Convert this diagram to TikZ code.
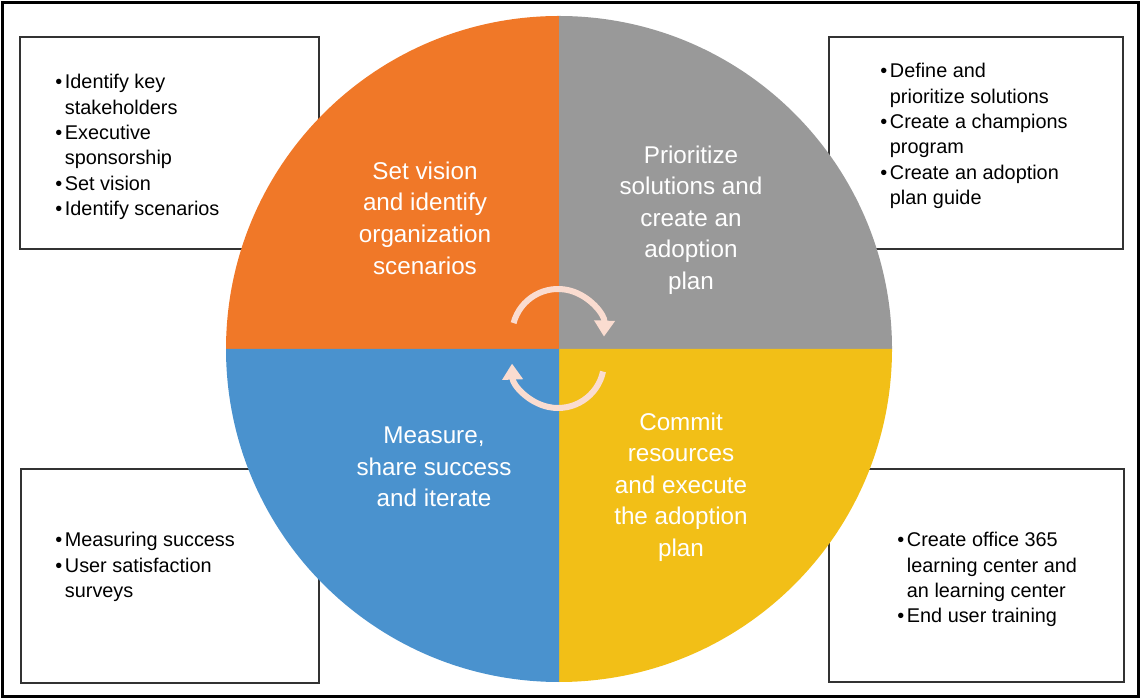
\documentclass[tikz,border=0pt]{standalone}
\usepackage{fontspec}
\setmainfont{Liberation Sans}
\usetikzlibrary{arrows.meta}
\definecolor{cOrange}{HTML}{F07828}
\definecolor{cGray}{HTML}{999999}
\definecolor{cBlue}{HTML}{4A92CE}
\definecolor{cYellow}{HTML}{F2BF17}
\definecolor{cPink}{HTML}{FADCD0}
\tikzset{
  box/.style = {draw=black!80, line width=0.025cm},
  seg/.style = {text=white, align=center, inner sep=0pt,
                font=\fontsize{13.8}{18}\selectfont},
  lst/.style = {anchor=base west, inner sep=0pt,
                font=\fontsize{11.3}{14.4}\selectfont},
  cyc/.style = {draw=cPink, line width=0.12cm,
                -{Triangle[width=0.4cm, length=0.32cm]}},
}
\newcommand{\blist}[1]{\begin{tabular}[t]{@{}l@{\hspace{1.5pt}}l@{}}#1\end{tabular}}

\begin{document}
\begin{tikzpicture}[x=0.02cm, y=0.02cm]
  \useasboundingbox (0,0) rectangle (1141,699);
  \draw[line width=0.06cm] (2.5,2.5) rectangle (1138.5,696.5);
  % side boxes
  \draw[box] (20,450) rectangle (319,662);
  \draw[box] (829,450) rectangle (1123,662);
  \draw[box] (21,16) rectangle (319,230);
  \draw[box] (829,17) rectangle (1124,230);
  % wheel
  \coordinate (c) at (559,350);
  \fill[cOrange] (c) -- ++(180:333) arc[start angle=180, end angle=90, radius=333] -- cycle;
  \fill[cGray]   (c) -- ++(90:333)  arc[start angle=90,  end angle=0,  radius=333] -- cycle;
  \fill[cYellow] (c) -- ++(0:333)   arc[start angle=0,   end angle=-90, radius=333] -- cycle;
  \fill[cBlue]   (c) -- ++(270:333) arc[start angle=270, end angle=180, radius=333] -- cycle;
  % cycle arrows
  \coordinate (up) at (558,364);
  \coordinate (lo) at (558,337);
  \draw[cyc] (up) ++(165:46) arc[start angle=165, end angle=-2, radius=46];
  \draw[cyc] (lo) ++(-12:46) arc[start angle=-12, end angle=-178, radius=46];
  % segment titles
  \node[seg] (tOrange) at (425,481) {Set vision\\and identify\\organization\\scenarios};
  \node[seg] (tGray)   at (691,479) {Prioritize\\solutions and\\create an\\adoption\\plan};
  \node[seg] (tBlue)   at (434,232) {Measure,\\share success\\and iterate};
  \node[seg] (tYellow) at (681,212) {Commit\\resources\\and execute\\the adoption\\plan};
  % box lists
  \node[lst] (lTL) at (55,610) {\blist{\textbullet & Identify key\\ & stakeholders\\
    \textbullet & Executive\\ & sponsorship\\ \textbullet & Set vision\\
    \textbullet & Identify scenarios}};
  \node[lst] (lTR) at (880,621) {\blist{\textbullet & Define and\\ & prioritize solutions\\
    \textbullet & Create a champions\\ & program\\
    \textbullet & Create an adoption\\ & plan guide}};
  \node[lst] (lBL) at (55,152) {\blist{\textbullet & Measuring success\\
    \textbullet & User satisfaction\\ & surveys}};
  \node[lst] (lBR) at (897,152) {\blist{\textbullet & Create office 365\\
    & learning center and\\ & an learning center\\ \textbullet & End user training}};
\end{tikzpicture}
\end{document}
